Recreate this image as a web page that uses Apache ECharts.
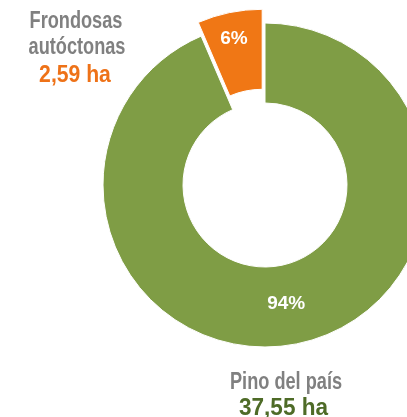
<!DOCTYPE html>
<html>
<head>
<meta charset="utf-8">
<script src="https://cdn.jsdelivr.net/npm/echarts@6/dist/echarts.min.js"></script>
<style>
  html, body { margin: 0; padding: 0; background: #fff; }
  #main { width: 407px; height: 417px; }
</style>
</head>
<body>
<div id="main"></div>
<script>
var names = ['Pino del país', 'Frondosas autóctonas'];
var values = [37.55, 2.59];
var valueLabels = ['37,55 ha', '2,59 ha'];
var colors = ['#7f9d45', '#f07715'];
var textColors = ['#4e6b27', '#ee7218'];

var font = "'Liberation Sans', Arial, sans-serif";

function txt(x, y, s, color, sx) {
    return {
        type: 'text', x: x, y: y, scaleX: sx,
        style: { text: s, fill: color, font: 'bold 23px ' + font, textAlign: 'center', textVerticalAlign: 'middle' }
    };
}

var chartDom = document.getElementById('main');
var myChart = echarts.init(chartDom);
var option;

option = {
    backgroundColor: '#fff',
    animation: false,
    graphic: [
        txt(76, 22, 'Frondosas', '#808080', 0.79),
        txt(77, 48, 'autóctonas', '#808080', 0.79),
        txt(75, 75.5, valueLabels[1], textColors[1], 0.92),
        txt(286, 383, names[0], '#808080', 0.79),
        txt(283.5, 408.5, valueLabels[0], textColors[0], 0.98)
    ],
    series: [
        {
            type: 'pie',
            center: [265, 185],
            radius: [82, 162],
            startAngle: 90,
            clockwise: true,
            selectedMode: 'single',
            selectedOffset: 14,
            itemStyle: {
                borderColor: '#fff',
                borderWidth: 1
            },
            label: {
                show: true,
                position: 'inside',
                formatter: function (p) { return Math.round(p.percent) + '%'; },
                color: '#fff',
                fontFamily: font,
                fontWeight: 'bold',
                fontSize: 19
            },
            labelLayout: function (p) {
                if (p.dataIndex === 1) return { dx: -3, dy: -10 };
                return { dx: -4, dy: -4 };
            },
            labelLine: { show: false },
            emphasis: { disabled: true },
            data: [
                { name: names[0], value: values[0], itemStyle: { color: colors[0] } },
                { name: names[1], value: values[1], selected: true, itemStyle: { color: colors[1] } }
            ]
        }
    ]
};

option && myChart.setOption(option);
</script>
</body>
</html>
